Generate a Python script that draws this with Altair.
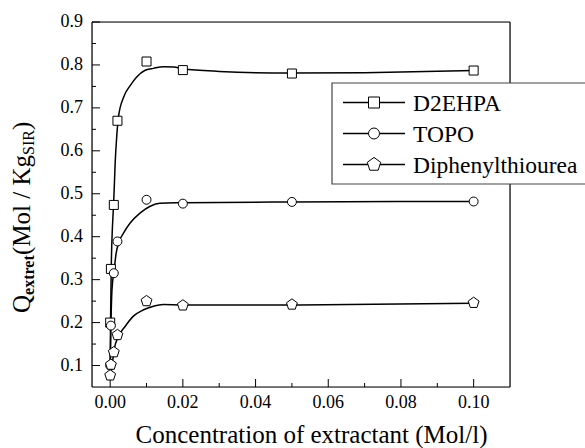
import altair as alt
import pandas as pd

# ---------------- data ----------------
series = ["D2EHPA", "TOPO", "Diphenylthiourea"]

x_pts = [0.0, 0.0002, 0.001, 0.002, 0.01, 0.02, 0.05, 0.10]
d2ehpa_pts = [0.200, 0.325, 0.474, 0.670, 0.808, 0.788, 0.780, 0.787]
topo_pts = [0.100, 0.193, 0.315, 0.389, 0.486, 0.477, 0.481, 0.482]
diph_pts = [0.077, 0.102, 0.131, 0.171, 0.250, 0.240, 0.242, 0.246]

# fitted curves
d2ehpa_cx = [0.0, 0.0001, 0.0003, 0.0009, 0.0011, 0.00137, 0.0018, 0.0023, 0.0037,
             0.0055, 0.0073, 0.0095, 0.0119, 0.0146, 0.0175, 0.02, 0.03, 0.05, 0.07, 0.10]
d2ehpa_cy = [0.09, 0.20, 0.33, 0.47, 0.509, 0.571, 0.633, 0.680, 0.725,
             0.752, 0.772, 0.787, 0.792, 0.796, 0.795, 0.791, 0.785, 0.781, 0.782, 0.787]

topo_cx = [0.0, 0.0002, 0.0005, 0.0011, 0.00165, 0.0023, 0.0037, 0.0055, 0.0082,
           0.011, 0.0137, 0.02, 0.05, 0.10]
topo_cy = [0.09, 0.19, 0.277, 0.323, 0.362, 0.385, 0.409, 0.432, 0.455,
           0.471, 0.478, 0.479, 0.481, 0.482]

diph_cx = [0.0, 0.0005, 0.0011, 0.0023, 0.0041, 0.0064, 0.0092, 0.0119, 0.0146,
           0.02, 0.05, 0.10]
diph_cy = [0.07, 0.098, 0.137, 0.168, 0.191, 0.215, 0.230, 0.238, 0.242,
           0.241, 0.241, 0.245]

x_major = [0.0, 0.02, 0.04, 0.06, 0.08, 0.10]
x_labels = ["0.00", "0.02", "0.04", "0.06", "0.08", "0.10"]
x_minor = [0.01, 0.03, 0.05, 0.07, 0.09]
y_major = [0.1, 0.2, 0.3, 0.4, 0.5, 0.6, 0.7, 0.8, 0.9]
y_labels = ["0.1", "0.2", "0.3", "0.4", "0.5", "0.6", "0.7", "0.8", "0.9"]
y_minor = [0.15, 0.25, 0.35, 0.45, 0.55, 0.65, 0.75, 0.85]

x_title = "Concentration of extractant (Mol/l)"
y_title_parts = [("Q", "main"), ("extret", "subbold"), ("(Mol / Kg", "main"),
                 ("SIR", "sub"), (")", "main")]

# ---------------- layout ----------------
W, H = 418, 365
PAD = {"left": 92, "top": 22, "right": 75, "bottom": 61}
FONT = "Liberation Serif"
PENTAGON = "M0,-1L0.951,-0.309L0.588,0.809L-0.588,0.809L-0.951,-0.309Z"
shapes = ["square", "circle", PENTAGON]
pt_sizes = [81, 80, 130]
lg_sizes = [121, 120, 200]

xs = alt.Scale(domain=[-0.005, 0.11], nice=False, zero=False)
ys = alt.Scale(domain=[0.05, 0.9], nice=False, zero=False)

one = pd.DataFrame({"a": [0]})
layers = []

# frame (left, bottom, top, right)
for enc in [dict(x=alt.value(0), x2=alt.value(W), y=alt.value(0)),
            dict(x=alt.value(0), x2=alt.value(W), y=alt.value(H)),
            dict(x=alt.value(0), y=alt.value(0), y2=alt.value(H)),
            dict(x=alt.value(W), y=alt.value(0), y2=alt.value(H))]:
    layers.append(alt.Chart(one).mark_rule(color="black", strokeWidth=1.2).encode(**enc))

# inward ticks
for vals, ln in [(x_major, 8), (x_minor, 4)]:
    layers.append(alt.Chart(pd.DataFrame({"x": vals})).mark_rule(color="black", strokeWidth=1)
                  .encode(x=alt.X("x:Q", scale=xs, axis=None),
                          y=alt.value(H), y2=alt.value(H - ln)))
for vals, ln in [(y_major, 8), (y_minor, 4)]:
    layers.append(alt.Chart(pd.DataFrame({"y": vals})).mark_rule(color="black", strokeWidth=1)
                  .encode(y=alt.Y("y:Q", scale=ys, axis=None),
                          x=alt.value(0), x2=alt.value(ln)))

# tick labels
layers.append(alt.Chart(pd.DataFrame({"x": x_major, "t": x_labels})).mark_text(
    align="center", baseline="alphabetic", font=FONT, fontSize=18, color="black")
    .encode(x=alt.X("x:Q", scale=xs, axis=None), y=alt.value(H + 21), text="t:N"))
layers.append(alt.Chart(pd.DataFrame({"y": y_major, "t": y_labels})).mark_text(
    align="right", baseline="middle", font=FONT, fontSize=18, color="black")
    .encode(y=alt.Y("y:Q", scale=ys, axis=None), x=alt.value(-9), text="t:N"))

# x title
layers.append(alt.Chart(pd.DataFrame({"t": [x_title]})).mark_text(
    align="center", baseline="alphabetic", font=FONT, fontSize=25, color="black")
    .encode(text="t:N", x=alt.value(219.5), y=alt.value(H + 56)))

# curves
curves = [(d2ehpa_cx, d2ehpa_cy), (topo_cx, topo_cy), (diph_cx, diph_cy)]
for cx, cy in curves:
    df = pd.DataFrame({"x": cx, "y": cy})
    layers.append(alt.Chart(df).mark_line(color="black", strokeWidth=1.5,
                                          interpolate="monotone")
                  .encode(x=alt.X("x:Q", scale=xs, axis=None),
                          y=alt.Y("y:Q", scale=ys, axis=None)))

# measured points
pts = [d2ehpa_pts, topo_pts, diph_pts]
for i, yv in enumerate(pts):
    df = pd.DataFrame({"x": x_pts, "y": yv})
    layers.append(alt.Chart(df).mark_point(shape=shapes[i], size=pt_sizes[i], filled=True,
                                           fill="white", stroke="black", strokeWidth=1,
                                           opacity=1)
                  .encode(x=alt.X("x:Q", scale=xs, axis=None),
                          y=alt.Y("y:Q", scale=ys, axis=None)))

# legend box
layers.append(alt.Chart(one).mark_rect(fill="white", stroke="#444", strokeWidth=1.2)
              .encode(x=alt.value(240), x2=alt.value(520), y=alt.value(61), y2=alt.value(162)))
for i, name in enumerate(series):
    ly = 80.5 + 31 * i
    layers.append(alt.Chart(one).mark_rule(color="black", strokeWidth=1.5)
                  .encode(x=alt.value(251), x2=alt.value(313), y=alt.value(ly)))
    layers.append(alt.Chart(one).mark_point(
        shape=shapes[i], size=lg_sizes[i], filled=True, fill="white", stroke="black",
        strokeWidth=1, opacity=1).encode(x=alt.value(282), y=alt.value(ly)))
    layers.append(alt.Chart(pd.DataFrame({"t": [name]})).mark_text(
        align="left", baseline="middle", font=FONT, fontSize=23.5, color="black")
        .encode(text="t:N", x=alt.value(321), y=alt.value(ly + 1)))

# y title with subscripts (rotated pieces)
widths = {"Q": .722, "(": .333, "M": .889, "o": .5, "l": .278, " ": .25, "/": .278,
          "K": .722, "g": .5, ")": .333, "S": .556, "I": .333, "R": .667}
bold_w = {"e": .444, "x": .5, "t": .333, "r": .444}
ypos = 291.0
for text, kind in y_title_parts:
    if kind == "main":
        fs, fw, bx = 25, "normal", -62
        adv = sum(widths[c] for c in text) * fs
    elif kind == "subbold":
        fs, fw, bx = 16, "bold", -58.5
        adv = sum(bold_w[c] for c in text) * fs
    else:
        fs, fw, bx = 16, "normal", -58.5
        adv = sum(widths[c] for c in text) * fs
    layers.append(alt.Chart(pd.DataFrame({"t": [text]})).mark_text(
        align="left", baseline="alphabetic", angle=270, font=FONT, fontSize=fs,
        fontWeight=fw, color="black")
        .encode(text="t:N", x=alt.value(bx), y=alt.value(ypos)))
    ypos -= adv

chart = alt.layer(*layers).properties(
    width=W, height=H, padding=PAD,
    autosize=alt.AutoSizeParams(type="none"),
    background="white",
).configure_view(stroke="transparent").configure(font=FONT)

chart.save("out.html", embed_options={"renderer": "svg", "actions": False})
